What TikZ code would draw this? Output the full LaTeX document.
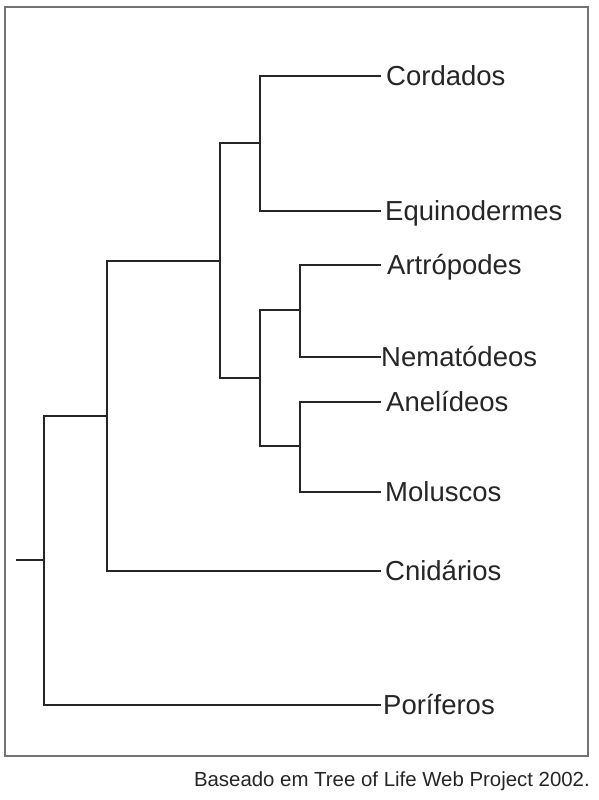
\documentclass[tikz,border=0pt]{standalone}
\usepackage{fontspec}
\setmainfont{Liberation Sans}
\begin{document}
\begin{tikzpicture}[x=1pt,y=-1pt,
  branch/.style={draw=black!85,line width=2.4pt,line cap=rect},
  taxon/.style={anchor=base west,inner sep=0pt,font=\fontsize{27.5}{30}\selectfont,text=black!85},
  frame/.style={draw=black!55,line width=1.3pt}]
\useasboundingbox (0,0) rectangle (599,800);
\fill[white] (0,0) rectangle (599,800);
\draw[frame] (5,7) rectangle (588,756);
% internal nodes
\coordinate (r0) at (17,560);
\coordinate (n1) at (44,560);
\coordinate (n1t) at (44,416);
\coordinate (n1b) at (44,705);
\coordinate (n2) at (107,416);
\coordinate (n2t) at (107,261);
\coordinate (n2b) at (107,571);
\coordinate (n3) at (220,261);
\coordinate (n3t) at (220,143);
\coordinate (n3b) at (220,378);
\coordinate (n4) at (260,143);
\coordinate (n4t) at (260,76);
\coordinate (n4b) at (260,211);
\coordinate (n5) at (260,378);
\coordinate (n5t) at (260,310);
\coordinate (n5b) at (260,446);
\coordinate (n6) at (300,310);
\coordinate (n6t) at (300,265);
\coordinate (n6b) at (300,357);
\coordinate (n7) at (300,446);
\coordinate (n7t) at (300,402);
\coordinate (n7b) at (300,492);
% leaf ends
\coordinate (lCor) at (380,76);
\coordinate (lEqu) at (380,211);
\coordinate (lArt) at (380,265);
\coordinate (lNem) at (380,357);
\coordinate (lAne) at (380,402);
\coordinate (lMol) at (380,492);
\coordinate (lCni) at (380,571);
\coordinate (lPor) at (380,705);
% labels
\node[taxon] (tCor) at (386,85) {Cordados};
\node[taxon] (tEqu) at (385,220) {Equinodermes};
\node[taxon] (tArt) at (387,274) {Artrópodes};
\node[taxon] (tNem) at (381,366) {Nematódeos};
\node[taxon] (tAne) at (386,411) {Anelídeos};
\node[taxon] (tMol) at (385,501) {Moluscos};
\node[taxon] (tCni) at (385,580) {Cnidários};
\node[taxon] (tPor) at (383,714) {Poríferos};
% branches
\draw[branch] (r0) -- (n1);
\draw[branch] (n1t) -- (n1b);
\draw[branch] (n1b) -- (lPor);
\draw[branch] (n1t) -- (n2);
\draw[branch] (n2t) -- (n2b);
\draw[branch] (n2b) -- (lCni);
\draw[branch] (n2t) -- (n3);
\draw[branch] (n3t) -- (n3b);
\draw[branch] (n3t) -- (n4);
\draw[branch] (n4t) -- (n4b);
\draw[branch] (n4t) -- (lCor);
\draw[branch] (n4b) -- (lEqu);
\draw[branch] (n3b) -- (n5);
\draw[branch] (n5t) -- (n5b);
\draw[branch] (n5t) -- (n6);
\draw[branch] (n6t) -- (n6b);
\draw[branch] (n6t) -- (lArt);
\draw[branch] (n6b) -- (lNem);
\draw[branch] (n5b) -- (n7);
\draw[branch] (n7t) -- (n7b);
\draw[branch] (n7t) -- (lAne);
\draw[branch] (n7b) -- (lMol);
% caption
\node[anchor=base east,inner sep=0pt,font=\fontsize{20.4}{24}\selectfont,text=black!85] (cap) at (590,786) {Baseado em Tree of Life Web Project 2002.};
\end{tikzpicture}
\end{document}
